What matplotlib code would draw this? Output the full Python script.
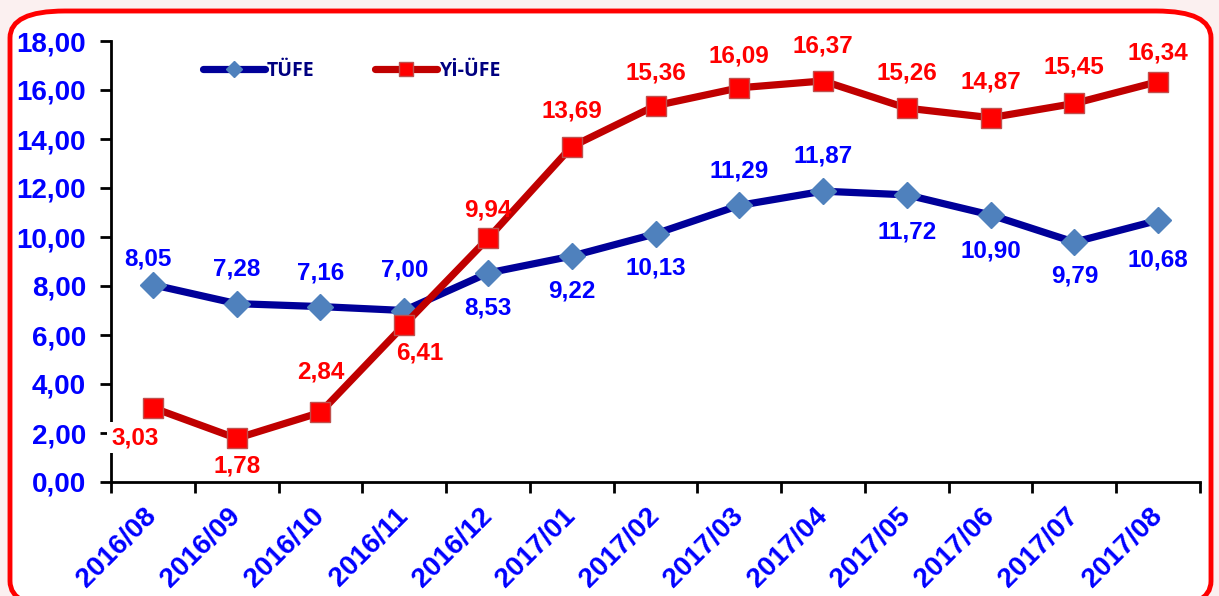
import matplotlib.pyplot as plt
from matplotlib.patches import FancyBboxPatch
from matplotlib.ticker import FuncFormatter, FixedLocator
import numpy as np

months = ["2016/08", "2016/09", "2016/10", "2016/11", "2016/12", "2017/01",
          "2017/02", "2017/03", "2017/04", "2017/05", "2017/06", "2017/07", "2017/08"]
tufe = [8.05, 7.28, 7.16, 7.00, 8.53, 9.22, 10.13, 11.29, 11.87, 11.72, 10.90, 9.79, 10.68]
yiufe = [3.03, 1.78, 2.84, 6.41, 9.94, 13.69, 15.36, 16.09, 16.37, 15.26, 14.87, 15.45, 16.34]

# label offsets in pixels (dx, dy)
tufe_off = [(-5, 26), (0, 35), (0, 34), (0, 40), (0, -35), (0, -35), (0, -34),
            (0, 34), (0, 35), (0, -37), (0, -36), (0, -34), (0, -40)]
yiufe_off = [(-18, -30), (0, -28), (0, 40), (16, -28), (0, 28), (0, 36), (0, 33),
             (0, 32), (0, 35), (0, 35), (0, 36), (0, 36), (0, 29)]

plt.rcParams["font.family"] = ["Liberation Sans", "DejaVu Sans"]

fig = plt.figure(figsize=(12.19, 5.96), dpi=100, facecolor="#fbf0f0")
frame = FancyBboxPatch((10 / 1219, -12 / 596), 1201 / 1219, 597 / 596,
                       boxstyle="round,pad=0,rounding_size=0.045",
                       transform=fig.transFigure, facecolor="white",
                       edgecolor="#ff0000", linewidth=3.5, zorder=0)
fig.patches.append(frame)

ax = fig.add_axes([111 / 1219, 1 - 482 / 596, 1089 / 1219, 441 / 596])
ax.set_facecolor("none")
ax.set_zorder(2)

x = np.arange(len(months))
ax.plot(x, tufe, color="#000099", lw=5.2, marker="D", ms=13,
        mfc="#4f81bd", mec="#4f81bd", label="TÜFE", zorder=3,
        solid_capstyle="round", solid_joinstyle="round")
ax.plot(x, yiufe, color="#c00000", lw=5.2, marker="s", ms=14.5,
        mfc="#ff0000", mec="#c0504d", mew=1, label="Yİ-ÜFE", zorder=4,
        solid_capstyle="round", solid_joinstyle="round")

for i, v in enumerate(tufe):
    ax.annotate(f"{v:.2f}".replace(".", ","), (x[i], v), xytext=tufe_off[i],
                textcoords="offset pixels", ha="center", va="center",
                color="#0000ff", fontsize=17.5, fontweight="bold", zorder=6)
for i, v in enumerate(yiufe):
    # the first label sits over the y axis and blanks it out
    box = dict(facecolor="white", edgecolor="none", pad=3) if i == 0 else None
    ax.annotate(f"{v:.2f}".replace(".", ","), (x[i], v), xytext=yiufe_off[i],
                textcoords="offset pixels", ha="center", va="center",
                color="#ff0000", fontsize=17.5, fontweight="bold", zorder=6,
                bbox=box, annotation_clip=False)

ax.set_xlim(-0.5, len(months) - 0.5)
ax.set_ylim(0, 18)
ax.set_yticks(np.arange(0, 19, 2))
ax.yaxis.set_major_formatter(FuncFormatter(lambda v, p: f"{v:.2f}".replace(".", ",")))
ax.tick_params(axis="y", direction="out", length=8, width=2, pad=10,
               labelsize=20, labelcolor="#0000ff")
for lab in ax.get_yticklabels():
    lab.set_fontweight("bold")

ax.set_xticks(x)
ax.set_xticklabels(months, rotation=45, ha="right", va="center",
                   rotation_mode="anchor", fontweight="bold")
ax.tick_params(axis="x", which="major", length=0, pad=22, labelsize=20,
               labelcolor="#0000ff")
ax.xaxis.set_minor_locator(FixedLocator(np.arange(-0.5, len(months), 1)))
ax.tick_params(axis="x", which="minor", direction="out", length=8, width=2)

for s in ["top", "right"]:
    ax.spines[s].set_visible(False)
ax.spines["left"].set_linewidth(2)
ax.spines["bottom"].set_linewidth(2)

leg = ax.legend(loc="upper left", bbox_to_anchor=(74 / 1089, 0.995), ncol=2,
                frameon=False, handlelength=3.2, handletextpad=0.12,
                columnspacing=3.1, markerscale=0.65,
                prop={"family": "Open Sans", "weight": "bold", "size": 14})
for t in leg.get_texts():
    t.set_color("#000080")

fig.savefig("out.png", dpi=100, facecolor=fig.get_facecolor())
